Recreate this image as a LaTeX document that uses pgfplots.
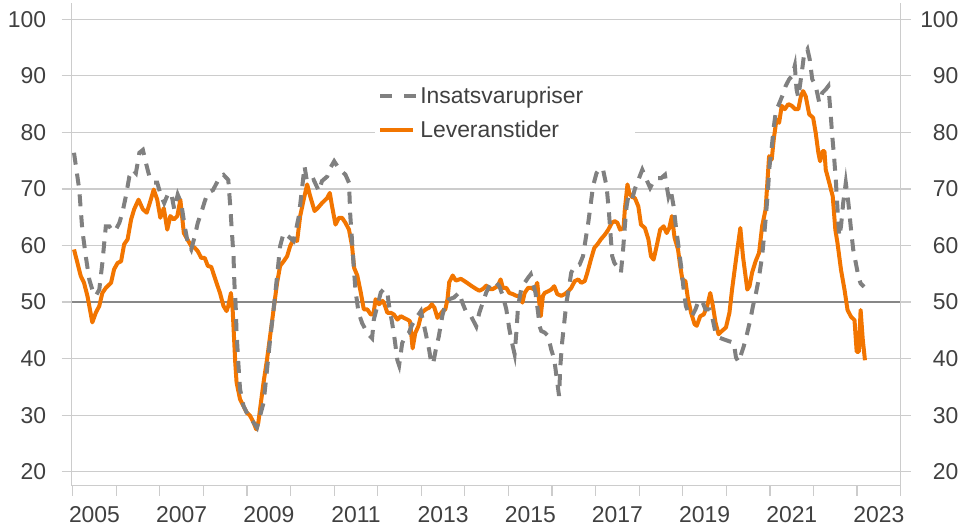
\documentclass[border=0pt]{standalone}
\usepackage{pgfplots}
\pgfplotsset{compat=1.18}
\usepackage{fontspec}
\setmainfont{Liberation Sans}
\definecolor{orng}{RGB}{242,117,0}
\definecolor{gry}{RGB}{128,128,128}
\definecolor{txt}{RGB}{64,64,64}
\definecolor{gridc}{RGB}{204,204,204}
\definecolor{fifty}{RGB}{135,135,135}
\newcommand{\lblfont}{\fontsize{23}{27}\selectfont}
\begin{document}
\begin{tikzpicture}
\useasboundingbox (0,0) rectangle (963bp,529bp);
\pgfplotsset{
  base/.style={
    at={(71.7bp,43.3bp)}, anchor=south west,
    scale only axis, width=829bp, height=482.4bp,
    xmin=2004.977, xmax=2024, ymin=17.52, ymax=102.83,
    tick align=outside,
    /pgf/number format/assume math mode=true,
    tick label style={font=\lblfont, text=txt},
    major tick style={draw=gridc, line width=1.2bp},
    ytick={20,30,...,100},
  }
}
\begin{axis}[base,
  axis x line*=bottom, axis y line*=left,
  x axis line style={-, draw=gridc, line width=1.2bp},
  y axis line style={-, draw=gridc, line width=1.2bp},
  ymajorgrids, major grid style={draw=gridc, line width=1.2bp},
  xtick={2005,...,2024}, xticklabels={},
  major tick length=10bp,
  extra x ticks={2005.5,2007.5,...,2023.5},
  extra x tick labels={2005,2007,2009,2011,2013,2015,2017,2019,2021,2023},
  extra x tick style={major tick length=0pt, xmajorgrids=false, xticklabel style={yshift=-17bp}},
  yticklabel style={xshift=-12bp},
  reverse legend,
  legend cell align=left,
  legend style={at={(0.366,0.838)}, anchor=north west, draw=none, fill=white,
    font=\lblfont, text=txt, inner sep=3bp, row sep=12bp,
    nodes={inner sep=2bp, text width=210bp}},
]
\addplot[fifty, line width=1.8bp, forget plot] coordinates {(2004.977,50) (2024,50)};
\addplot[orng, line width=4bp, line join=round,
  legend image code/.code={\draw[orng, line width=4bp] (0bp,0bp) -- (33bp,0bp);}]
coordinates {
(2005.03,59.3) (2005.185,54.6) (2005.26,53.4) (2005.34,51) (2005.45,46.4) (2005.53,48.1) (2005.61,49.3) (2005.68,51.6) (2005.76,52.5) (2005.88,53.4) (2005.95,55.8) (2006.03,56.9) (2006.11,57.2) (2006.18,60.2) (2006.26,61.1) (2006.34,64.6) (2006.41,66.4) (2006.51,68.1) (2006.61,66.4) (2006.70,65.8) (2006.78,67.8) (2006.86,69.9) (2006.94,68.1) (2007.01,64.9) (2007.09,66.6) (2007.17,62.8) (2007.24,65.2) (2007.32,64.6) (2007.40,65.2) (2007.47,68.1) (2007.55,62.2) (2007.63,61.1) (2007.72,59.9) (2007.80,59.6) (2007.87,59) (2007.95,57.8) (2008.03,57.8) (2008.10,56.4) (2008.18,56.2)
(2008.30,53.4) (2008.38,51.6) (2008.46,49.3) (2008.53,48.4) (2008.57,49.3) (2008.63,51.6) (2008.67,48.7) (2008.70,44) (2008.73,39.3) (2008.76,35.8) (2008.84,32.8) (2008.92,31.6) (2008.99,30.5) (2009.07,29.9) (2009.15,28.7) (2009.21,27.5) (2009.26,28.7) (2009.30,31.1) (2009.38,35.8) (2009.46,39.9) (2009.53,44) (2009.61,48.7) (2009.69,53.4) (2009.76,56.4) (2009.84,57.2) (2009.92,58.1) (2009.99,59.9) (2010.07,61.1) (2010.15,60.8) (2010.22,65.2) (2010.30,68.1) (2010.38,70.8) (2010.45,68.7) (2010.55,66.1) (2010.62,66.6) (2010.72,67.5) (2010.84,68.4) (2010.90,69.3) (2010.95,67) (2011.03,63.7) (2011.11,64.9) (2011.18,64.9) (2011.26,64) (2011.34,62.8) (2011.41,59.9) (2011.46,56)
(2011.53,54.7) (2011.61,51.7) (2011.68,48.7) (2011.76,48.7) (2011.84,47.8) (2011.90,47.8) (2011.95,50.5) (2012.03,49.6) (2012.11,50.2) (2012.14,49.9) (2012.22,48.1) (2012.30,48.1) (2012.37,47.8) (2012.45,46.9) (2012.53,47.5) (2012.60,47.2) (2012.68,46.9) (2012.74,46.6) (2012.80,41.8) (2012.86,44.5) (2012.93,45.7) (2013.01,48.1) (2013.10,48.7) (2013.18,49) (2013.24,49.6) (2013.30,49) (2013.37,47.2) (2013.43,47.8) (2013.49,48.4) (2013.55,48.7) (2013.60,50.5) (2013.64,53.5) (2013.72,54.7) (2013.79,53.8) (2013.91,54.1) (2014.03,53.5) (2014.14,52.9) (2014.26,52.3) (2014.33,52) (2014.41,52.3) (2014.49,52.9) (2014.56,52.3) (2014.64,52.3)
(2014.75,52.8) (2014.82,54) (2014.87,52.5) (2014.95,52.5) (2015.02,51.6) (2015.10,51.4) (2015.18,51.1) (2015.25,51.1) (2015.32,49.9) (2015.37,51.6) (2015.45,52.5) (2015.52,52.5) (2015.60,52.2) (2015.66,53.4) (2015.69,51.1) (2015.74,47.5) (2015.79,51.1) (2015.83,51.6) (2015.91,51.9) (2015.98,52.2) (2016.05,52.8) (2016.12,51.4) (2016.21,51.1) (2016.29,51.4) (2016.37,51.9) (2016.44,52.5) (2016.52,53.7) (2016.60,54) (2016.67,53.4) (2016.75,53.7) (2016.81,55.2) (2016.89,57.5) (2016.97,59.6) (2017.04,60.2) (2017.12,61.1) (2017.21,61.9) (2017.29,62.8) (2017.37,64) (2017.44,64.3) (2017.50,64) (2017.56,62.8) (2017.64,63.1) (2017.67,66.4) (2017.73,70.8) (2017.77,69.3) (2017.83,68.6) (2017.90,68.4)
(2017.98,66.9) (2018.04,63.7) (2018.13,63.1) (2018.21,61.1) (2018.27,58.1) (2018.33,57.5) (2018.40,59.9) (2018.48,62.8) (2018.56,63.4) (2018.63,62.2) (2018.69,63.1) (2018.75,65.2) (2018.81,61.4) (2018.89,59.3) (2018.94,56.4) (2018.99,54) (2019.06,53.7) (2019.12,50.5) (2019.19,48.1) (2019.27,46.1) (2019.32,45.8) (2019.40,47.5) (2019.48,47.8) (2019.56,49.3) (2019.63,51.6) (2019.69,49.3) (2019.75,46.4) (2019.82,44.3) (2019.90,44.9) (2019.99,45.5) (2020.07,48.1) (2020.13,52.2) (2020.22,57.5) (2020.32,63.1) (2020.38,58.1) (2020.48,52.2) (2020.53,52.8) (2020.59,55.2) (2020.67,57.2) (2020.75,58.7) (2020.82,63.4) (2020.90,66.4) (2020.98,75.8) (2021.04,75.2)
(2021.09,79) (2021.15,82.3) (2021.21,81.7) (2021.27,84.7) (2021.34,84.1) (2021.42,85) (2021.50,84.7) (2021.58,84.1) (2021.65,84.1) (2021.71,86.4) (2021.76,87.3) (2021.82,86.4) (2021.90,83.2) (2021.99,82.6) (2022.05,79.9) (2022.11,76.4) (2022.15,74.9) (2022.21,76.7) (2022.25,76.7) (2022.28,73.4) (2022.36,71.1) (2022.44,68.7) (2022.50,62.8) (2022.55,60.4) (2022.63,55.7) (2022.71,52.2) (2022.78,48.6) (2022.86,47.4) (2022.94,46.8) (2022.99,41.2) (2023.04,41.2) (2023.08,48.6) (2023.13,43.3) (2023.18,39.7)
};
\addlegendentry{Leveranstider}
\addplot[gry, line width=4bp, dash pattern=on 12bp off 9bp,
  legend image code/.code={\draw[gry, line width=4bp, dash pattern=on 12bp off 12bp] (0bp,0bp) -- (36bp,0bp);}]
coordinates {
(2005.03,76.4) (2005.15,69.9) (2005.22,62.8) (2005.30,58.1) (2005.38,54) (2005.45,52.2) (2005.53,51.1) (2005.61,52.2) (2005.68,56.9) (2005.76,63.4) (2005.84,63.4) (2005.92,62.5) (2005.99,62.8) (2006.07,64) (2006.14,65.8) (2006.22,68.7) (2006.30,72.2) (2006.38,73.4) (2006.45,72.8) (2006.53,76.4) (2006.61,76.9) (2006.68,74.6) (2006.76,72.2) (2006.86,71.1) (2006.94,71.1) (2007.03,68.7) (2007.10,67.5) (2007.18,69) (2007.26,69.3) (2007.33,66.4) (2007.41,69) (2007.49,67.5) (2007.57,63.4) (2007.64,60.5) (2007.72,59.3) (2007.80,61.6) (2007.87,64) (2007.95,65.8) (2008.03,67.8) (2008.10,69.3) (2008.22,69.8)
(2008.38,72.2) (2008.46,72.5) (2008.57,71.6) (2008.61,67.5) (2008.65,62.8) (2008.69,58.1) (2008.71,53.4) (2008.74,49.3) (2008.76,44.6) (2008.80,39.3) (2008.84,34.6) (2008.92,31.6) (2009.03,29.9) (2009.15,28.7) (2009.23,27.8) (2009.30,29.9) (2009.38,32.2) (2009.46,38.1) (2009.53,43.4) (2009.61,48.7) (2009.69,54.6) (2009.76,59.9) (2009.84,62.2) (2009.95,61.6) (2010.07,60.8) (2010.19,65.2) (2010.26,69.9) (2010.32,74) (2010.38,71.1) (2010.53,71.6) (2010.65,69.6) (2010.72,71.4) (2010.84,72.2) (2010.91,73.7) (2011.00,74.9) (2011.10,73.7) (2011.18,73.1) (2011.26,72.5) (2011.34,71.1) (2011.37,65.2) (2011.40,62) (2011.45,56) (2011.49,52)
(2011.56,48.1) (2011.64,46.3) (2011.76,44.5) (2011.87,43.6) (2011.91,46.9) (2011.99,49.3) (2012.07,51.7) (2012.14,52.3) (2012.22,51.7) (2012.26,49.3) (2012.33,46.3) (2012.39,43.3) (2012.45,39.7) (2012.49,38.8) (2012.56,42.7) (2012.64,44.2) (2012.71,44.5) (2012.79,46) (2012.91,47.5) (2012.99,48.4) (2013.10,44.5) (2013.18,41.5) (2013.23,39.1) (2013.27,39.1) (2013.33,41.5) (2013.40,43.9) (2013.48,47.5) (2013.56,49.9) (2013.64,50.5) (2013.75,50.8) (2013.87,51.7) (2013.94,49.9) (2014.02,48.4) (2014.14,47.5) (2014.26,45.7) (2014.33,48.1) (2014.41,49.9) (2014.49,51.7) (2014.60,53.5)
(2014.72,53.4) (2014.79,52.8) (2014.87,51.1) (2014.95,48.7) (2015.02,45.2) (2015.08,42.8) (2015.14,40.8) (2015.18,44.6) (2015.22,49.3) (2015.29,52.2) (2015.37,53.4) (2015.45,54.3) (2015.51,54.9) (2015.56,53.4) (2015.62,51.6) (2015.68,48.1) (2015.71,45.8) (2015.75,44.9) (2015.83,44.6) (2015.91,44) (2015.98,41.6) (2016.05,39.9) (2016.10,36.9) (2016.14,34.6) (2016.16,33.4) (2016.19,38.7) (2016.23,42.8) (2016.28,46.4) (2016.33,49.9) (2016.38,52.2) (2016.44,55.2) (2016.52,56.4) (2016.63,56.6) (2016.71,58.1) (2016.77,61.1) (2016.83,64) (2016.89,67.5) (2016.94,70.5) (2017.02,72.8) (2017.10,73.7) (2017.17,73.4) (2017.25,70.5) (2017.30,66.4) (2017.35,61.1) (2017.38,58.1) (2017.43,56.9) (2017.48,56.4) (2017.52,55.8) (2017.58,55.2) (2017.63,59.3) (2017.67,63.4) (2017.71,66.9) (2017.75,68.7) (2017.83,68)
(2017.90,70) (2017.98,71.6) (2018.07,73.4) (2018.17,71.6) (2018.25,70.2) (2018.33,71.4) (2018.40,71.9) (2018.50,71.9) (2018.59,72.5) (2018.63,70.5) (2018.67,68.7) (2018.72,69.9) (2018.79,66.9) (2018.84,63.4) (2018.90,59.9) (2018.96,56.4) (2019.02,52.2) (2019.07,49.3) (2019.13,48.1) (2019.21,47.5) (2019.29,48.7) (2019.36,50.2) (2019.44,50.2) (2019.52,48.7) (2019.61,48.7) (2019.67,47.5) (2019.75,44.6) (2019.84,43.7) (2019.94,43.4) (2020.05,43.1) (2020.17,42.8) (2020.22,40.2) (2020.28,39.4) (2020.40,42.2) (2020.48,44.6) (2020.55,46.9) (2020.61,49.3) (2020.68,51.6) (2020.74,54) (2020.82,58.1) (2020.90,64.6) (2020.95,69.3) (2020.99,74) (2021.05,78.1) (2021.09,81.1) (2021.14,84)
(2021.19,84.7) (2021.28,86.4) (2021.36,88.2) (2021.44,89.4) (2021.51,90) (2021.57,91.8) (2021.61,87.6) (2021.65,86.2) (2021.73,90.6) (2021.78,93.6) (2021.86,94.7) (2021.91,93) (2021.97,89.4) (2022.05,88.2) (2022.13,85.3) (2022.20,87) (2022.28,87.6) (2022.34,88.2) (2022.39,83.5) (2022.43,79.3) (2022.47,75.8) (2022.51,71.7) (2022.55,66.4) (2022.59,61.6) (2022.63,63.4) (2022.68,67.5) (2022.74,71.1) (2022.80,67.5) (2022.86,62.8) (2022.91,59.3) (2022.97,56.9) (2023.03,54.5) (2023.08,53.3) (2023.16,52.7)
};
\addlegendentry{Insatsvarupriser}
\end{axis}
\begin{axis}[base,
  axis y line*=right, axis x line=none,
  y axis line style={-, draw=gridc, line width=1.2bp},
  major tick length=10bp,
  yticklabel style={anchor=east, inner sep=0pt, xshift=48bp},
]
\addplot[draw=none, forget plot] coordinates {(2005,50)};
\end{axis}
\end{tikzpicture}
\end{document}
